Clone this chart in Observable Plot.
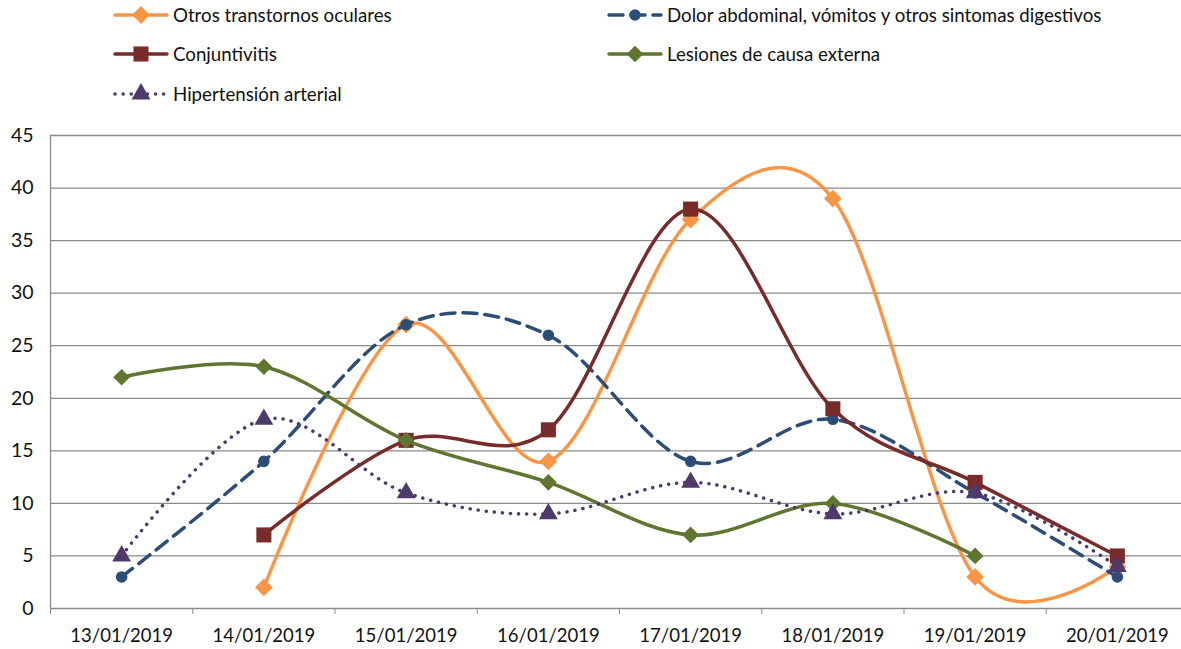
<!DOCTYPE html>
<html>
<head>
<meta charset="utf-8">
<script src="https://cdn.jsdelivr.net/npm/d3@7"></script>
<script src="https://cdn.jsdelivr.net/npm/@observablehq/plot@0.6"></script>
<style>
  html, body { margin: 0; padding: 0; background: #fff; }
  body { width: 1181px; height: 649px; overflow: hidden; font-family: Lato, "Open Sans", sans-serif; }
  #legend { position: relative; height: 118px; }
  .item { position: absolute; display: flex; align-items: center; font-size: 18.7px; color: #111; white-space: nowrap; }
  .item svg { margin-right: 4px; }
  #chart svg { display: block; }
</style>
</head>
<body>
<div id="legend"></div>
<div id="chart"></div>
<script>
const dates = ["13/01/2019","14/01/2019","15/01/2019","16/01/2019","17/01/2019","18/01/2019","19/01/2019","20/01/2019"];
const otros    = [null, 2, 27, 14, 37, 39, 3, 4];
const dolor    = [3, 14, 27, 26, 14, 18, 11, 3];
const conj     = [null, 7, 16, 17, 38, 19, 12, 5];
const lesiones = [22, 23, 16, 12, 7, 10, 5, null];
const hiper    = [5, 18, 11, 9, 12, 9, 11, 4];
const yTicks = [0, 5, 10, 15, 20, 25, 30, 35, 40, 45];

const series = [
  {name: "Otros transtornos oculares", values: otros, color: "#F79646", dash: null, symbol: "diamond2", r: 8, pos: [113, 15]},
  {name: "Dolor abdominal, vómitos y otros sintomas digestivos", values: dolor, color: "#2C4D75", dash: "14,8", symbol: "circle", r: 5.8, pos: [607, 15]},
  {name: "Conjuntivitis", values: conj, color: "#772C2A", dash: null, symbol: "square", r: 8.5, pos: [113, 54]},
  {name: "Lesiones de causa externa", values: lesiones, color: "#5F7530", dash: null, symbol: "diamond2", r: 7.5, pos: [607, 54]},
  {name: "Hipertensión arterial", values: hiper, color: "#4E3B6B", dash: "0.1,8", symbol: "triangle", r: 7, pos: [113, 94]}
];

const font = "Lato, Open Sans, sans-serif";

// legend
const legend = document.getElementById("legend");
for (const s of series) {
  const div = document.createElement("div");
  div.className = "item";
  div.style.left = s.pos[0] + "px";
  div.style.top = (s.pos[1] - 13) + "px";
  const sym = d3.symbol().type({diamond2: d3.symbolDiamond2, circle: d3.symbolCircle, square: d3.symbolSquare, triangle: d3.symbolTriangle}[s.symbol]).size(Math.PI * s.r * s.r)();
  div.innerHTML = `<svg width="56" height="26" viewBox="0 0 56 26">
    <line x1="2" x2="54" y1="13" y2="13" stroke="${s.color}" stroke-width="3.5" stroke-linecap="round" ${s.dash ? `stroke-dasharray="${s.dash}"` : ""}/>
    <path d="${sym}" transform="translate(28,13)" fill="${s.color}"/>
  </svg><span>${s.name}</span>`;
  legend.appendChild(div);
}

const marks = [
  Plot.gridY(yTicks.slice(1), {stroke: "#8a8a8a", strokeOpacity: 1, strokeWidth: 1.3}),
  Plot.ruleY([0], {stroke: "#8a8a8a", strokeWidth: 1.3}),
  Plot.ruleX([-0.5], {stroke: "#8a8a8a", strokeWidth: 1.3}),
  Plot.axisY({ticks: yTicks, tickSize: 0, tickPadding: 17, fontSize: 19.5, fill: "#111", fontFamily: font, label: null}),
  Plot.axisX({ticks: d3.range(-0.5, dates.length, 1), tickSize: 6, tickFormat: () => "", stroke: "#8a8a8a", label: null}),
  Plot.axisX({ticks: d3.range(dates.length), tickSize: 0, tickPadding: 20, tickFormat: i => dates[i], fontSize: 18.5, fill: "#111", fontFamily: font, label: null})
];
for (const s of series) {
  const data = s.values.map((v, i) => ({i, v}));
  marks.push(Plot.line(data, {x: "i", y: "v", curve: "cardinal", stroke: s.color, strokeWidth: 3.5, strokeDasharray: s.dash, strokeLinecap: "round"}));
  marks.push(Plot.dot(data, {x: "i", y: "v", symbol: () => s.symbol, fill: s.color, r: s.r, stroke: "none"}));
}

const chart = Plot.plot({
  width: 1181,
  height: 531,
  marginTop: 17,
  marginBottom: 41,
  marginLeft: 50,
  marginRight: 0,
  x: {type: "linear", domain: [-0.5, dates.length - 0.5], range: [50, 1188], axis: null, label: null},
  y: {domain: [0, 45], range: [490, 17], axis: null, label: null},
  symbol: {type: "identity"},
  style: {overflow: "visible"},
  marks
});
document.getElementById("chart").appendChild(chart);
</script>
</body>
</html>
